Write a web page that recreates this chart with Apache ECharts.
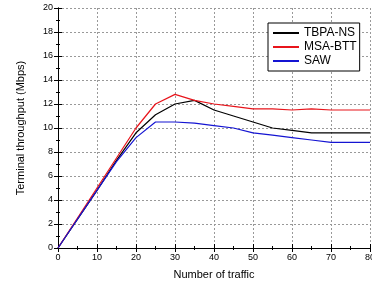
<!DOCTYPE html>
<html>
<head>
<meta charset="utf-8">
<script src="https://cdn.jsdelivr.net/npm/echarts@6/dist/echarts.min.js"></script>
<style>
html,body{margin:0;padding:0;background:#fff}
#chart{width:372px;height:284px}
</style>
</head>
<body>
<div id="chart"></div>
<script>
// 数据
var traffic = [0, 5, 10, 15, 20, 25, 30, 35, 40, 45, 50, 55, 60, 65, 70, 75, 80]
var tbpaNs = [0, 2.4, 4.8, 7.3, 9.6, 11.1, 12.0, 12.3, 11.5, 11.0, 10.5, 10.0, 9.8, 9.6, 9.6, 9.6, 9.6]
var msaBtt = [0, 2.5, 5.0, 7.5, 10.0, 12.0, 12.8, 12.3, 12.0, 11.8, 11.6, 11.6, 11.5, 11.6, 11.5, 11.5, 11.5]
var saw = [0, 2.4, 4.8, 7.2, 9.2, 10.5, 10.5, 10.4, 10.2, 10.0, 9.6, 9.4, 9.2, 9.0, 8.8, 8.8, 8.8]
var seriesNames = ['TBPA-NS', 'MSA-BTT', 'SAW']
var seriesColors = ['#000000', '#e8141b', '#1414d2']

function pairs(ys) {
    return traffic.map(function (x, i) { return [x, ys[i]] })
}

var font = 'Liberation Sans, Arial, sans-serif'
var tickStyle = {show: true, inside: true, length: 4, lineStyle: {color: '#000'}}
var minorStyle = {show: true, splitNumber: 2, length: 2, lineStyle: {color: '#000'}}

var myChart = echarts.init(document.getElementById('chart'))
var option = {
    animation: false,
    textStyle: {fontFamily: font},
    grid: {left: 58, right: 2, top: 8, bottom: 36, outerBoundsMode: 'none', containLabel: false},
    legend: {
        orient: 'vertical',
        left: 268, top: 23,
        backgroundColor: '#fff',
        borderColor: '#000', borderWidth: 1,
        padding: [4, 3, 4, 5],
        itemWidth: 26, itemHeight: 2, itemGap: 2,
        textStyle: {fontSize: 12, color: '#000', fontFamily: font},
        icon: 'rect',
        data: seriesNames
    },
    xAxis: [{
        type: 'value', min: 0, max: 80, interval: 10,
        name: 'Number of traffic', nameLocation: 'middle', nameGap: 21,
        nameTextStyle: {fontSize: 11, color: '#000'},
        axisLine: {lineStyle: {color: '#000'}},
        axisTick: tickStyle, minorTick: minorStyle,
        axisLabel: {fontSize: 9, color: '#000', margin: 5},
        splitLine: {show: true, lineStyle: {color: '#999', type: [2, 2]}}
    }, {
        type: 'value', position: 'top', min: 0, max: 80, interval: 10,
        axisLine: {show: true, lineStyle: {color: '#000'}},
        axisTick: tickStyle, minorTick: minorStyle,
        axisLabel: {show: false}, splitLine: {show: false}
    }],
    yAxis: [{
        type: 'value', min: 0, max: 20, interval: 2,
        name: 'Terminal throughput (Mbps)', nameLocation: 'middle', nameGap: 32,
        nameTextStyle: {fontSize: 11, color: '#000'},
        axisLine: {show: true, lineStyle: {color: '#000'}},
        axisTick: tickStyle, minorTick: minorStyle,
        axisLabel: {fontSize: 9, color: '#000', margin: 5},
        splitLine: {show: true, lineStyle: {color: '#999', type: [2, 2]}}
    }, {
        type: 'value', position: 'right', min: 0, max: 20, interval: 2,
        axisLine: {show: true, lineStyle: {color: '#000'}},
        axisTick: tickStyle, minorTick: minorStyle,
        axisLabel: {show: false}, splitLine: {show: false}
    }],
    series: [tbpaNs, msaBtt, saw].map(function (ys, i) {
        return {
            name: seriesNames[i], type: 'line',
            data: pairs(ys),
            showSymbol: false, symbol: 'none',
            color: seriesColors[i],
            lineStyle: {width: 1.2, color: seriesColors[i]}
        }
    })
}
myChart.setOption(option)
</script>
</body>
</html>
